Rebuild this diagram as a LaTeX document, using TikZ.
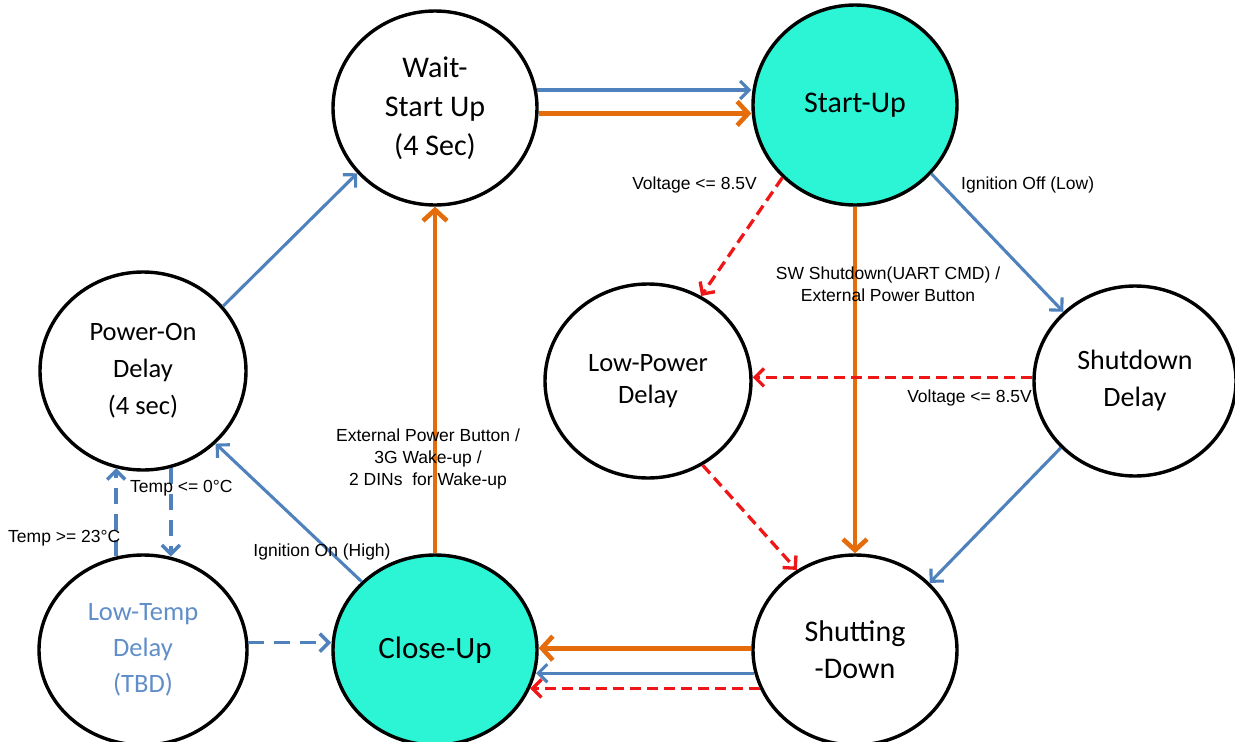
\documentclass[tikz,border=0pt]{standalone}
\usepackage{fontspec}
\setmainfont{Carlito}
\newfontfamily\lblfont{Liberation Sans}
\usetikzlibrary{arrows.meta,shapes.geometric,calc}

\definecolor{stateteal}{RGB}{43,245,213}
\definecolor{eblue}{RGB}{79,129,189}
\definecolor{eorange}{RGB}{228,108,10}
\definecolor{ered}{RGB}{238,22,22}
\definecolor{tempblue}{RGB}{96,142,200}

\begin{document}
\begin{tikzpicture}[x=1pt,y=-1pt,
  state/.style={ellipse, draw=black, line width=3.4pt, inner sep=0pt,
    align=center, text=black},
  big/.style={font=\fontsize{30}{39}\selectfont},
  mid/.style={font=\fontsize{26.5}{37}\selectfont},
  active/.style={fill=stateteal},
  bluearr/.style={draw=eblue, line width=3.1pt,
    -{Straight Barb[length=9pt,width=18pt]}},
  orangearr/.style={draw=eorange, line width=4.6pt,
    -{Straight Barb[length=11pt,width=24pt]}},
  redarr/.style={draw=ered, line width=3.3pt, dash pattern=on 11pt off 6pt,
    -{Straight Barb[length=9pt,width=18pt]}},
  bluedash/.style={draw=eblue, line width=3.5pt, dash pattern=on 16pt off 10pt,
    -{Straight Barb[length=9pt,width=18pt]}},
  lbl/.style={font=\lblfont\fontsize{17.5}{22}\selectfont, inner sep=0pt, text=black}
]
\useasboundingbox (0,0) rectangle (1235,742);

% states
\node[state, big, minimum width=204pt, minimum height=194pt] (wait) at (435,108) {Wait-\\Start Up\\(4 Sec)};
\node[state, big, active, minimum width=204pt, minimum height=200pt] (start) at (855,105) {Start-Up};
\node[state, mid, minimum width=206pt, minimum height=198pt] (pon) at (143,371) {Power-On\\Delay\\(4 sec)};
\node[state, mid, minimum width=206pt, minimum height=194pt, font=\fontsize{26.5}{32}\selectfont] (lp) at (648,381) {Low-Power\\Delay};
\node[state, minimum width=202pt, minimum height=190pt, font=\fontsize{28}{37}\selectfont] (sd) at (1135,381) {Shutdown\\Delay};
\node[state, mid, minimum width=208pt, minimum height=190pt, text=tempblue, font=\fontsize{26.5}{36}\selectfont] (ltd) at (143,650) {Low-Temp\\Delay\\(TBD)};
\node[state, active, minimum width=204pt, minimum height=190pt, font=\fontsize{31}{39}\selectfont] (close) at (435,650) {Close-Up};
\node[state, big, minimum width=204pt, minimum height=190pt, font=\fontsize{30}{37}\selectfont] (shut) at (855,650) {Shutting\\-Down};

% transitions
\draw[bluearr] (wait.10) -- (wait.10 -| start.west);
\draw[orangearr] (wait.-3) -- (wait.-3 -| start.west);
\draw[redarr] (start.225) -- (lp.58);
\draw[bluearr] (start.-42) -- (sd.136);
\draw[orangearr] (start.south) -- (shut.north);
\draw[redarr] (sd.178) -- (sd.178 -| lp.east);
\draw[redarr] (lp.-57) -- (shut.126);
\draw[bluearr] (sd.222) -- (shut.42);
\draw[orangearr] (shut.179) -- (shut.179 -| close.east);
\draw[bluearr] (shut.193) -- (shut.193 -| close.-12);
\draw[redarr] (shut.202) -- (shut.202 -| close.-22);
\draw[orangearr] (close.north) -- (wait.south);
\draw[bluearr] (close.137) -- (pon.-45);
\draw[bluearr] (pon.39) -- (wait.220);
\draw[bluedash] (pon.-74) -- (pon.-74 |- ltd.74);
\draw[bluedash] (ltd.106) -- (ltd.106 |- pon.-106);
\draw[bluedash] (ltd.4) -- (ltd.4 -| close.west);

% transition labels
\node[lbl, anchor=east] (lvolt1) at (757,185) {Voltage <= 8.5V};
\node[lbl, anchor=west] (lignoff) at (961,185) {Ignition Off (Low)};
\node[lbl, align=center] (lsw) at (888,284) {SW Shutdown(UART CMD) /\\External Power Button};
\node[lbl, anchor=east] (lvolt2) at (1032,398) {Voltage <= 8.5V};
\node[lbl, align=center] (lwake) at (428,459) {External Power Button /\\3G Wake-up /\\2 DINs\ \ for Wake-up};
\node[lbl] (lignon) at (322,552) {Ignition On (High)};
\node[lbl, anchor=west] (lcold) at (130,488) {Temp <= 0°C};
\node[lbl, anchor=west] (lwarm) at (8,538) {Temp >= 23°C};
\end{tikzpicture}
\end{document}
